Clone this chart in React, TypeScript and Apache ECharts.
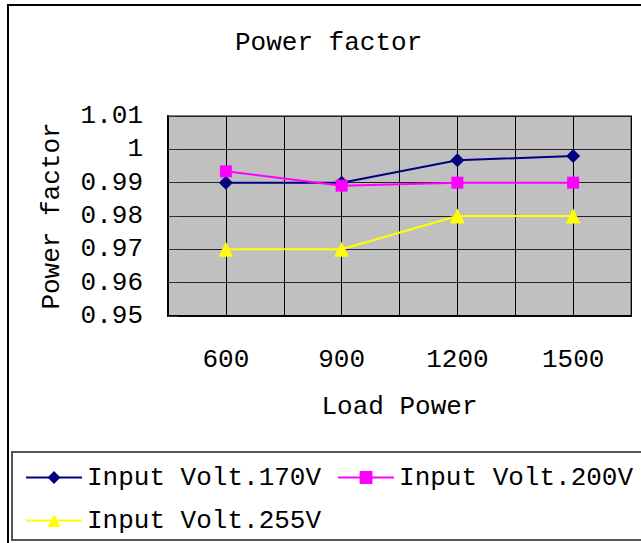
import React, { useEffect, useRef } from "react";
import * as echarts from "echarts";

const titleText = "Power factor";
const loadPowers = [600, 900, 1200, 1500];
const seriesNames = ["Input Volt.170V", "Input Volt.200V", "Input Volt.255V"];
const volt170 = [0.99, 0.99, 0.9967, 0.998];
const volt200 = [0.9934, 0.9891, 0.990, 0.990];
const volt255 = [0.97, 0.97, 0.98, 0.98];
const seriesColors = ["#000080", "#FF00FF", "#FFFF00"];
const seriesSymbols = ["diamond", "rect", "triangle"];
const seriesSizes = [14, 12, 15];

const FONT = "'Liberation Mono', 'DejaVu Sans Mono', monospace";

export default function App() {
  const ref = useRef<HTMLDivElement>(null);
  useEffect(() => {
    if (!ref.current) return;
    const chart = echarts.init(ref.current, null, { renderer: "svg" });
    const values = [volt170, volt200, volt255];
    chart.setOption({
      animation: false,
      backgroundColor: "#ffffff",
      title: {
        text: titleText,
        left: 230,
        top: 25,
        textStyle: { fontFamily: FONT, fontSize: 26, fontWeight: "normal", color: "#000" },
      },
      graphic: [
        {
          type: "rect",
          shape: { x: 8, y: 5, width: 700, height: 600 },
          style: { fill: "none", stroke: "#000", lineWidth: 2 },
          silent: true,
        },
        {
          type: "rect",
          shape: { x: 12, y: 452, width: 700, height: 88 },
          style: { fill: "none", stroke: "#555", lineWidth: 2 },
          silent: true,
        },
      ],
      legend: {
        left: 20,
        top: 459,
        orient: "horizontal",
        itemWidth: 56,
        itemHeight: 16,
        itemGap: 16,
        textStyle: { fontFamily: FONT, fontSize: 26, color: "#000", lineHeight: 27 },
        data: seriesNames,
      },
      grid: {
        left: 168,
        top: 116,
        width: 463,
        height: 200,
        show: true,
        backgroundColor: "#C0C0C0",
        borderColor: "#808080",
        borderWidth: 2,
      },
      xAxis: {
        type: "value",
        min: 450,
        max: 1650,
        interval: 150,
        name: "Load Power",
        nameLocation: "middle",
        nameGap: 78,
        nameTextStyle: { fontFamily: FONT, fontSize: 26, color: "#000" },
        axisLine: { show: true, lineStyle: { color: "#000", width: 2 } },
        axisTick: { show: false },
        axisLabel: {
          margin: 31,
          fontFamily: FONT,
          fontSize: 26,
          color: "#000",
          formatter: (v: number) => (loadPowers.includes(v) ? String(v) : ""),
        },
        splitLine: { show: true, lineStyle: { color: "#000", width: 1 } },
      },
      yAxis: {
        type: "value",
        min: 0.95,
        max: 1.01,
        interval: 0.01,
        name: "Power factor",
        nameLocation: "middle",
        nameRotate: 90,
        nameGap: 103,
        nameTextStyle: { fontFamily: FONT, fontSize: 26, color: "#000" },
        axisLine: { show: true, lineStyle: { color: "#000", width: 2 } },
        axisTick: { show: true, inside: true, length: 10, lineStyle: { color: "#333" } },
        axisLabel: {
          margin: 25,
          fontFamily: FONT,
          fontSize: 26,
          color: "#000",
          padding: [4, 0, 0, 0],
          formatter: (v: number) => String(parseFloat(v.toFixed(2))),
        },
        splitLine: { show: true, lineStyle: { color: "#222", width: 1 } },
      },
      series: seriesNames.map((name, i) => ({
        name,
        type: "line",
        data: loadPowers.map((x, j) => [x, values[i][j]]),
        symbol: seriesSymbols[i],
        symbolSize: seriesSizes[i],
        color: seriesColors[i],
        lineStyle: { color: seriesColors[i], width: 2 },
        itemStyle: { color: seriesColors[i] },
      })),
    });
    return () => chart.dispose();
  }, []);
  return (
    <div
      ref={ref}
      style={{ position: "fixed", left: 0, top: 0, width: 641, height: 543 }}
    />
  );
}
